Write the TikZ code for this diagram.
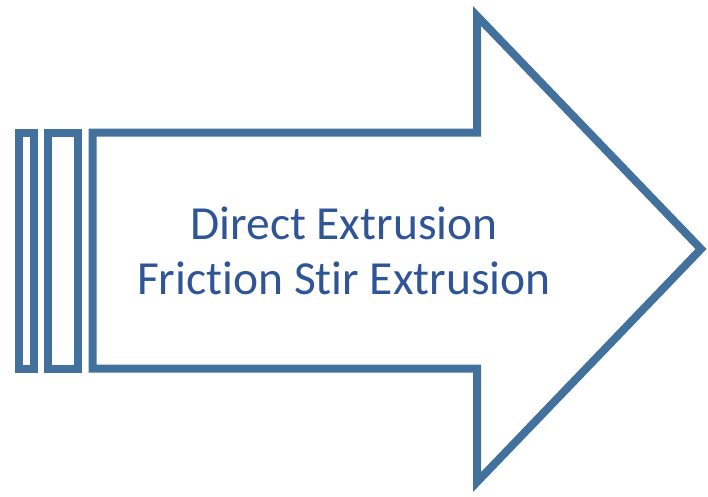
\documentclass[tikz,border=0pt]{standalone}
\usepackage{fontspec}
\setmainfont[RawFeature=-liga]{Carlito}
\definecolor{outlineblue}{RGB}{65,113,156}
\definecolor{textblue}{RGB}{47,85,151}
\begin{document}
\begin{tikzpicture}[x=1pt,y=-1pt,
  outline/.style={draw=outlineblue,line width=8pt,line join=miter,miter limit=10},
  label/.style={text=textblue,font=\fontsize{47.5}{55}\selectfont,align=center}]
\useasboundingbox (0,0) rectangle (708,496);
% two narrow bars behind the arrow
\draw[outline] (19,132.5) rectangle (34,368.5);
\draw[outline] (48.3,132.5) rectangle (78,368.5);
% block arrow
\draw[outline] (92.5,132.5) -- (477,132.5) -- (477,16) -- (701,249)
  -- (477,482) -- (477,368.5) -- (92.5,368.5) -- cycle;
\node[label] (caption) at (344,251) {Direct Extrusion\\Friction Stir Extrusion};
\end{tikzpicture}
\end{document}
